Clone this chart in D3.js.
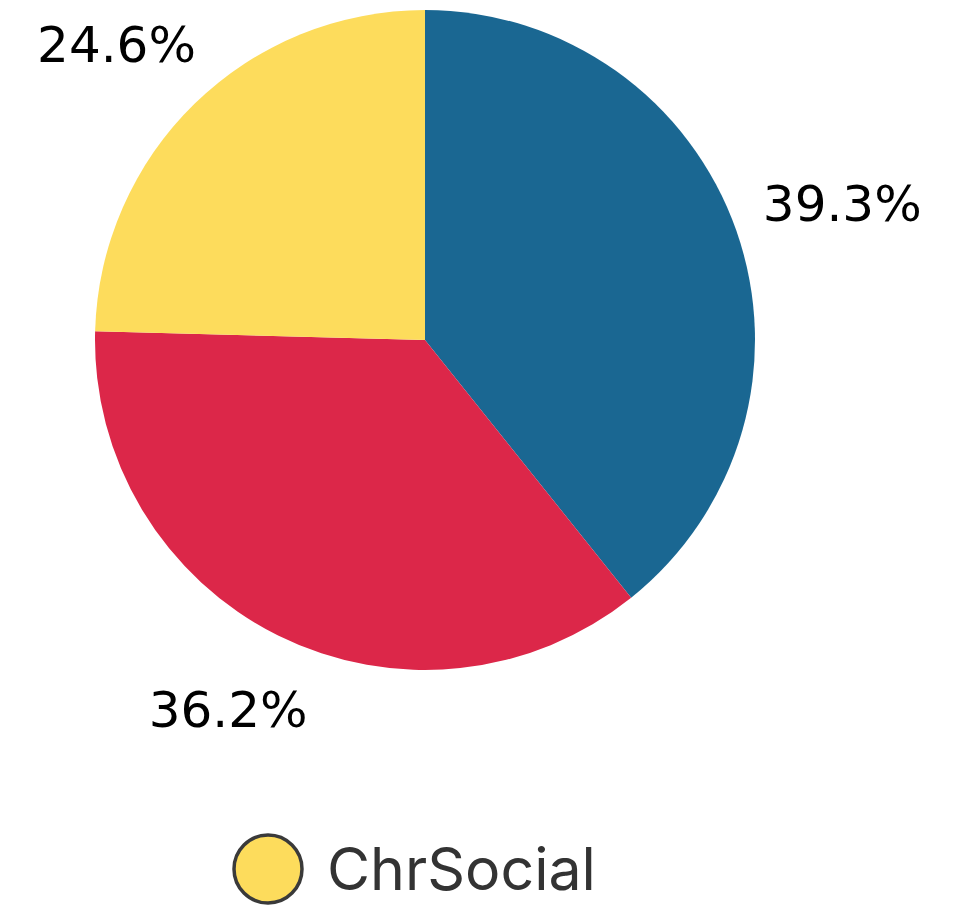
<!DOCTYPE html>
<html>
<head>
<meta charset="utf-8">
<script src="https://cdn.jsdelivr.net/npm/d3@7"></script>
<style>
  body { margin: 0; background: #fff; }
  svg { display: block; }
</style>
</head>
<body>
<svg id="chart" width="976" height="906"></svg>
<script>
const categories = ['A', 'B', 'C'];
const values = [39.3, 36.2, 24.6];
const colors = ['#1a6792', '#dc2749', '#fddc5c'];
const labels = ['39.3%', '36.2%', '24.6%'];
const legendLabel = 'ChrSocial';

const svg = d3.select('#chart');
const cx = 425, cy = 340, r = 330;

const pie = d3.pie().sort(null).value(d => d);
const arcs = pie(values);
const arc = d3.arc().innerRadius(0).outerRadius(r);
const unitArc = d3.arc().innerRadius(1).outerRadius(1);

const g = svg.append('g').attr('transform', `translate(${cx},${cy})`);

g.selectAll('path')
  .data(arcs)
  .join('path')
  .attr('d', arc)
  .attr('fill', (d, i) => colors[i]);

// labels sit on a slightly flattened ring outside the pie
g.selectAll('text')
  .data(arcs)
  .join('text')
  .attr('transform', d => {
    const [ux, uy] = unitArc.centroid(d);
    return `translate(${ux * r * 1.34},${uy * r * 1.25})`;
  })
  .attr('text-anchor', 'middle')
  .attr('dy', '0.36em')
  .style('font-family', '"DejaVu Sans", sans-serif')
  .style('font-size', '50px')
  .attr('fill', '#000')
  .text((d, i) => labels[i]);

// legend
const lg = svg.append('g').attr('transform', 'translate(268,869)');
lg.append('circle')
  .attr('r', 34)
  .attr('fill', colors[2])
  .attr('stroke', '#3a3a3a')
  .attr('stroke-width', 3.5);
lg.append('text')
  .attr('x', 59)
  .attr('dy', '0.36em')
  .style('font-family', 'Inter, Roboto, sans-serif')
  .style('font-size', '59px')
  .attr('fill', '#333')
  .text(legendLabel);
</script>
</body>
</html>
